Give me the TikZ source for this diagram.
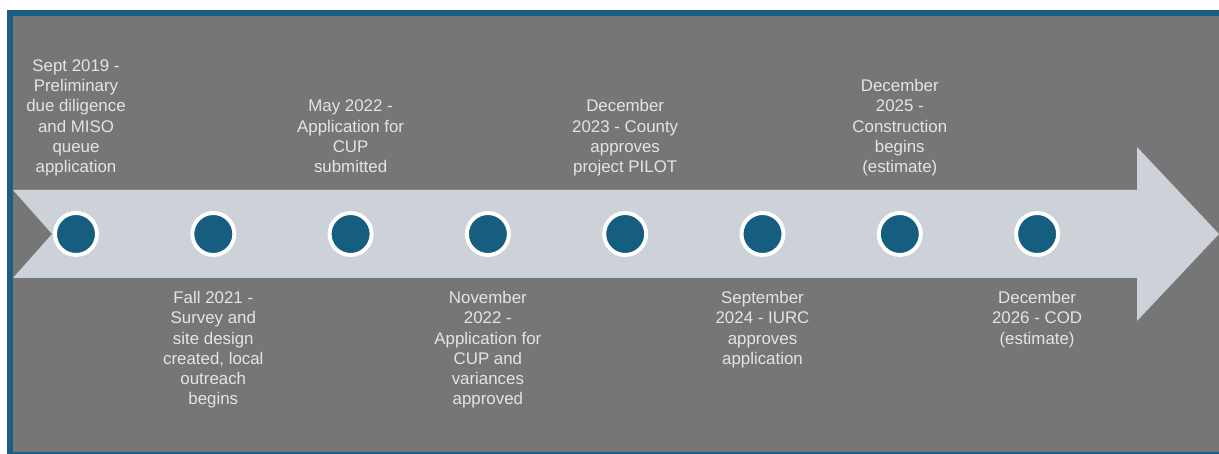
\documentclass[tikz,border=0pt]{standalone}
\usepackage{fontspec}
\setmainfont{Liberation Sans}
\usepackage{xcolor}
\usepackage{tikz}
\usetikzlibrary{arrows.meta,positioning}

\definecolor{frameblue}{HTML}{1A5F83}
\definecolor{panelgray}{HTML}{767676}
\definecolor{bandgray}{HTML}{CDD1D8}
\definecolor{dotblue}{HTML}{165E80}
\definecolor{labeltext}{HTML}{E4E4E4}

\begin{document}
\begin{tikzpicture}[
    x=0.025cm, y=0.025cm,
    milestone/.style={circle, fill=dotblue, draw=white, line width=2.8pt,
                      minimum size=1.05cm, inner sep=0pt},
    toplabel/.style={anchor=south, inner sep=0pt, align=center, text=labeltext,
                     font=\fontsize{12}{14.4}\selectfont,
                     execute at begin node=\strut, execute at end node=\strut},
    botlabel/.style={toplabel, anchor=north},
]
\useasboundingbox (0,0) rectangle (1219,454);
\clip (0,0) rectangle (1219,454);

% framed panel
\fill[frameblue] (7,-10) rectangle (1240,444);
\fill[panelgray] (13,2) rectangle (1240,438);

% timeline arrow with notched tail
\fill[bandgray] (13,264) -- (1137,264) -- (1137,307) -- (1219,220)
    -- (1137,133) -- (1137,176) -- (13,176) -- (52,220) -- cycle;

% milestones
\node[milestone] (m1) at (76,220) {};
\node[milestone] (m2) at (213.3,220) {};
\node[milestone] (m3) at (350.6,220) {};
\node[milestone] (m4) at (487.9,220) {};
\node[milestone] (m5) at (625.2,220) {};
\node[milestone] (m6) at (762.5,220) {};
\node[milestone] (m7) at (899.8,220) {};
\node[milestone] (m8) at (1037.1,220) {};

% labels above the arrow
\node[toplabel] (l1) at (76,275) {Sept 2019 -\\Preliminary\\due diligence\\and MISO\\queue\\application};
\node[toplabel] (l3) at (350.6,275) {May 2022 -\\Application for\\CUP\\submitted};
\node[toplabel] (l5) at (625.2,275) {December\\2023 - County\\approves\\project PILOT};
\node[toplabel] (l7) at (899.8,275) {December\\2025 -\\Construction\\begins\\(estimate)};

% labels below the arrow
\node[botlabel] (l2) at (213.3,163) {Fall 2021 -\\Survey and\\site design\\created, local\\outreach\\begins};
\node[botlabel] (l4) at (487.9,163) {November\\2022 -\\Application for\\CUP and\\variances\\approved};
\node[botlabel] (l6) at (762.5,163) {September\\2024 - IURC\\approves\\application};
\node[botlabel] (l8) at (1037.1,163) {December\\2026 - COD\\(estimate)};
\end{tikzpicture}
\end{document}
